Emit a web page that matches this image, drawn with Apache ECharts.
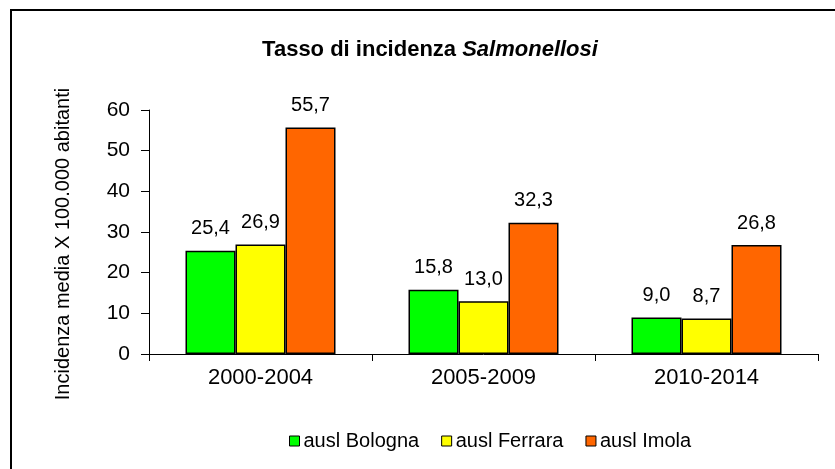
<!DOCTYPE html>
<html>
<head>
<meta charset="utf-8">
<script src="https://cdn.jsdelivr.net/npm/echarts@6/dist/echarts.min.js"></script>
<style>html,body{margin:0;padding:0;background:#fff;}#c{width:835px;height:469px;}</style>
</head>
<body>
<div id="c"></div>
<script>
const categories = ['2000-2004', '2005-2009', '2010-2014'];
const seriesNames = ['ausl Bologna', 'ausl Ferrara', 'ausl Imola'];
const bologna = [25.4, 15.8, 9.0];
const ferrara = [26.9, 13.0, 8.7];
const imola = [55.7, 32.3, 26.8];
const seriesColors = ['#00FF00', '#FFFF00', '#FF6600'];
const yTicks = [0, 10, 20, 30, 40, 50, 60];
const yAxisTitle = 'Incidenza media X 100.000 abitanti';

const FONT = '"Liberation Sans", Arial, sans-serif';
const chart = echarts.init(document.getElementById('c'), null, {renderer: 'canvas'});
const values = [bologna, ferrara, imola];

chart.setOption({
  backgroundColor: '#fff',
  animation: false,
  graphic: [{
    type: 'polyline',
    shape: {points: [[11, 480], [11, 10], [845, 10]]},
    style: {stroke: '#000', lineWidth: 2, fill: null},
    silent: true
  }, {
    type: 'text',
    x: 63,
    y: 244,
    rotation: Math.PI / 2,
    style: {
      text: yAxisTitle,
      fontFamily: FONT,
      fontSize: 20,
      fill: '#000',
      align: 'center',
      verticalAlign: 'middle'
    },
    silent: true
  }],
  title: {
    text: '{a|Tasso di incidenza }{b|Salmonellosi}',
    left: 425,
    top: 34,
    textAlign: 'center',
    textStyle: {
      rich: {
        a: {fontFamily: FONT, fontWeight: 'bold', fontSize: 22, color: '#000'},
        b: {fontFamily: FONT, fontWeight: 'bold', fontStyle: 'italic', fontSize: 22, color: '#000'}
      }
    }
  },
  legend: {
    data: seriesNames,
    bottom: 13,
    left: 284,
    icon: 'rect',
    itemWidth: 10,
    itemHeight: 10,
    itemGap: 22,
    textStyle: {fontFamily: FONT, fontSize: 20, color: '#000', padding: [0, 0, 0, -1]},
    itemStyle: {borderColor: '#000', borderWidth: 1}
  },
  grid: {left: 149, right: 17, top: 110, bottom: 115, containLabel: false},
  xAxis: {
    type: 'category',
    data: categories,
    axisLine: {show: true, lineStyle: {color: '#000', width: 1}},
    axisTick: {show: true, length: 7, lineStyle: {color: '#000'}},
    axisLabel: {fontFamily: FONT, fontSize: 22, color: '#000', margin: 13}
  },
  yAxis: {
    type: 'value',
    min: yTicks[0],
    max: yTicks[yTicks.length - 1],
    interval: 10,
    axisLine: {show: true, lineStyle: {color: '#000', width: 1}},
    axisTick: {show: true, length: 8, lineStyle: {color: '#000'}},
    splitLine: {show: false},
    axisLabel: {fontFamily: FONT, fontSize: 21, color: '#000', margin: 19}
  },
  series: seriesNames.map((n, i) => ({
    name: n,
    type: 'bar',
    data: values[i],
    barWidth: 50,
    barGap: '0%',
    itemStyle: {color: seriesColors[i], borderColor: '#000', borderWidth: 1.5},
    label: {
      show: true,
      position: 'top',
      distance: 12,
      fontFamily: FONT,
      fontSize: 20,
      color: '#000',
      formatter: p => p.value.toFixed(1).replace('.', ',')
    }
  }))
});
</script>
</body>
</html>
